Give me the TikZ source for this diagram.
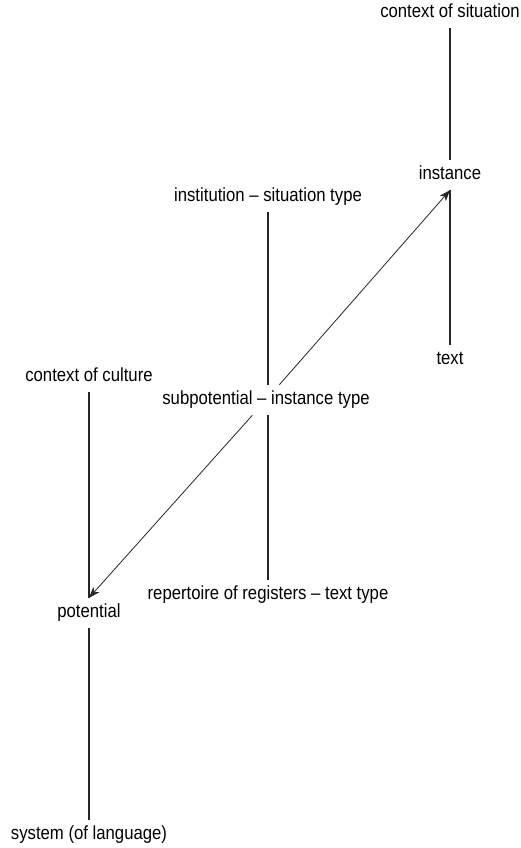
\documentclass[tikz,border=0pt]{standalone}
\usepackage{fontspec}
\setmainfont{Liberation Sans}[FakeStretch=0.88]
\usepackage{tikz}
\usetikzlibrary{arrows.meta, positioning}

\begin{document}
\begin{tikzpicture}
  [
    x=1pt, y=-1pt,
    Term/.style={font=\fontsize{19}{22}\selectfont, text height=13pt, text depth=4pt,
      inner xsep=1pt, inner ysep=6.5pt},
    Stem/.style={draw=black!85, line width=1.6pt},
    Link/.style={draw=black!85, line width=0.8pt, -{Stealth[length=11pt, width=8pt, inset=3pt]}}
  ]
  \useasboundingbox (0, 0) rectangle (521, 848);
  % Nodes
  \node[Term] (sit) at(450, 13) {context of situation};
  \node[Term] (inst) at(450, 175) {instance};
  \node[Term] (text) at(450, 360) {text};
  \node[Term] (itype) at(268, 197) {institution -- situation type};
  \node[Term] (sub) at(266, 400) {subpotential -- instance type};
  \node[Term] (rep) at(268, 595) {repertoire of registers -- text type};
  \node[Term] (cult) at(89, 377) {context of culture};
  \node[Term] (pot) at(89, 613) {potential};
  \node[Term] (sys) at(89, 835) {system (of language)};
  % Lines
  \path [Stem] (sit) -- (inst);
  \path [Stem] (inst) -- (text);
  \path [Stem] (itype) -- (itype |- sub.north);
  \path [Stem] (itype |- sub.south) -- (rep);
  \path [Stem] (cult) -- (pot);
  \path [Stem] (pot) -- (sys);
  \path [Link] (sub) -- (inst.south);
  \path [Link] (sub) -- (pot.north);
\end{tikzpicture}
\end{document}
